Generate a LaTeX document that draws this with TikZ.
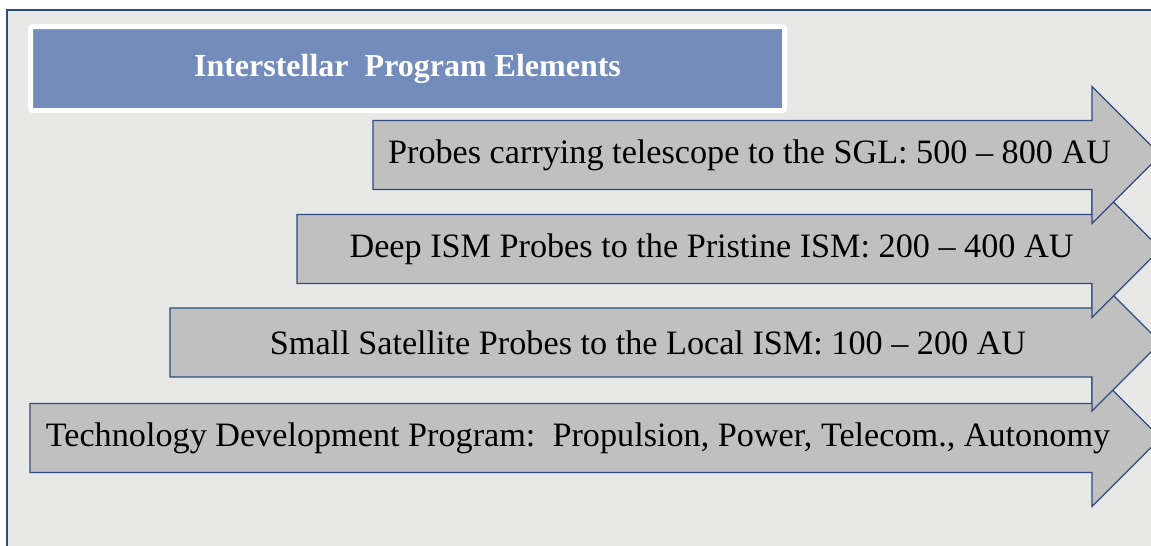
\documentclass[tikz,border=0pt]{standalone}
\usepackage{fontspec}
\setmainfont{Liberation Serif}
\usepackage{tikz}

\definecolor{framebg}{HTML}{E8E8E7}
\definecolor{edgeblue}{HTML}{2F4B82}
\definecolor{titleblue}{HTML}{748CBC}
\definecolor{arrowgray}{HTML}{C0C0C0}

\tikzset{
  progarrow/.style={fill=arrowgray,draw=edgeblue,line width=1.3pt,line join=miter},
  proglabel/.style={font=\fontsize{34.2}{38}\selectfont,inner sep=0pt},
  titlebox/.style={fill=titleblue,draw=white,line width=5pt,rounded corners=2pt,
    minimum width=754pt,minimum height=84pt,text=white,
    font=\bfseries\fontsize{32}{36}\selectfont}
}

% name, left end, centre line, text
\newcommand{\progelement}[4]{
  \draw[progarrow] (#2,#3-34.5) -- (1092,#3-34.5) -- (1092,#3-68.5) -- (1160.5,#3)
    -- (1092,#3+68.5) -- (1092,#3+34.5) -- (#2,#3+34.5) -- cycle;
  \node[proglabel] (#1) at ({(#2+1126)/2},#3) {#4};
}

\begin{document}
\begin{tikzpicture}[x=1pt,y=-1pt]
\useasboundingbox (0,0) rectangle (1151,546);
\clip (0,0) rectangle (1151,546);
\draw[fill=framebg,draw=edgeblue,line width=1.2pt] (7,10) rectangle (1180,580);
\node[titlebox] (title) at (407.5,68.5) {Interstellar\ \ Program Elements};
\progelement{techdev}{30}{438}{Technology Development Program:\ \ Propulsion, Power, Telecom., Autonomy}
\progelement{smallsat}{170}{342.5}{Small Satellite Probes to the Local ISM: 100 -- 200 AU}
\progelement{deepism}{297}{249}{Deep ISM Probes to the Pristine ISM: 200 -- 400 AU}
\progelement{sglprobe}{373}{155}{Probes carrying telescope to the SGL: 500 -- 800 AU}
\end{tikzpicture}
\end{document}
